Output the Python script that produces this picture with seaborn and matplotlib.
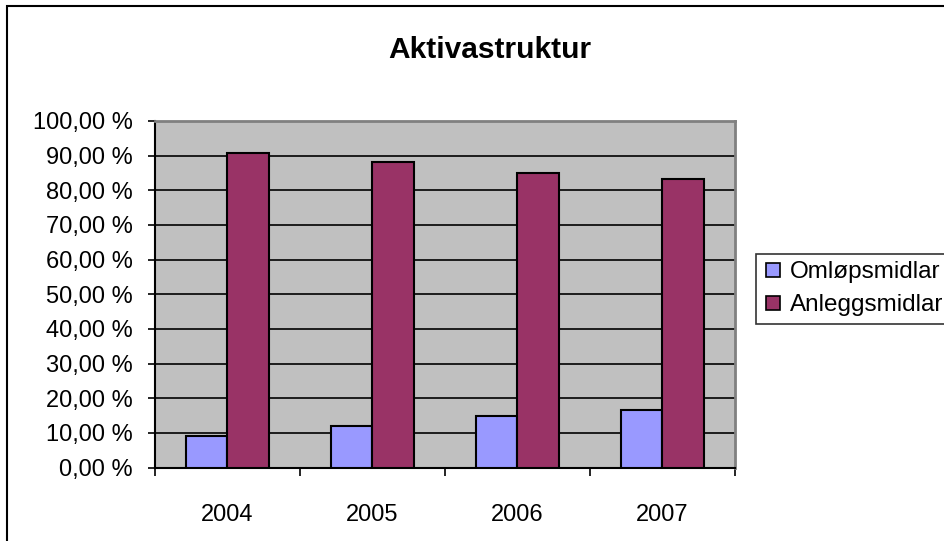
import matplotlib
matplotlib.use("Agg")
import matplotlib.pyplot as plt
import seaborn as sns
import pandas as pd
from matplotlib.patches import Rectangle
from matplotlib.lines import Line2D
from matplotlib.ticker import FixedLocator, FuncFormatter

years = ["2004", "2005", "2006", "2007"]
omlop = [9.1, 11.9, 15.0, 16.7]
anlegg = [90.9, 88.1, 85.0, 83.3]
series = ["Omløpsmidlar", "Anleggsmidlar"]
colors = ["#9999FF", "#993366"]
yticks = list(range(0, 101, 10))
title = "Aktivastruktur"

df = pd.DataFrame({
    "year": years * 2,
    "value": omlop + anlegg,
    "series": [series[0]] * len(years) + [series[1]] * len(years),
})

sns.set_theme(style="white")
plt.rcParams["font.family"] = ["Liberation Sans", "DejaVu Sans"]
plt.rcParams["text.color"] = "black"
plt.rcParams["xtick.color"] = "black"
plt.rcParams["ytick.color"] = "black"
plt.rcParams["xtick.labelcolor"] = "black"
plt.rcParams["ytick.labelcolor"] = "black"

W, H = 945, 541
fig = plt.figure(figsize=(W / 100, H / 100), dpi=100)
ax = fig.add_axes([155 / W, 1 - 467.5 / H, (735 - 155) / W, (467.5 - 121) / H])
ax.set_facecolor("#C0C0C0")

sns.barplot(data=df, x="year", y="value", hue="series", order=years,
            hue_order=series, palette=colors, width=0.566, gap=0,
            edgecolor="black", linewidth=1.5, ax=ax, legend=False,
            saturation=1, zorder=3)

ax.set_ylim(0, 100)
ax.set_xlim(-0.5, 3.5)
ax.set_yticks(yticks)
ax.yaxis.set_major_formatter(FuncFormatter(lambda v, p: f"{v:.2f} %".replace(".", ",")))
ax.grid(axis="y", color="black", linewidth=1.2, zorder=0)
ax.set_axisbelow(True)
ax.set_xlabel("")
ax.set_ylabel("")

ax.tick_params(axis="y", which="major", direction="out", length=5, width=1.2,
               color="black", labelcolor="black", left=True, labelsize=17, pad=11)
ax.tick_params(axis="x", which="major", length=0, labelsize=17, labelcolor="black", pad=26)
ax.xaxis.set_minor_locator(FixedLocator([-0.5, 0.5, 1.5, 2.5, 3.5]))
ax.tick_params(axis="x", which="minor", direction="out", length=6, width=1.2,
               color="black", bottom=True)

for s in ["left", "bottom"]:
    ax.spines[s].set_color("black")
    ax.spines[s].set_linewidth(1.5)
    ax.spines[s].set_visible(True)
for s in ["top", "right"]:
    ax.spines[s].set_color("#808080")
    ax.spines[s].set_linewidth(2)
    ax.spines[s].set_visible(True)

fig.text(490 / W, 1 - 50 / H, title, ha="center", va="center",
         fontsize=21.5, fontweight="bold", color="black")

handles = [Line2D([0], [0], marker="s", linestyle="", markersize=10,
                  markerfacecolor=c, markeredgecolor="black", markeredgewidth=1.2)
           for c in colors]
leg = fig.legend(handles, series, loc="upper left",
                 bbox_to_anchor=(756 / W, 1 - 254 / H), bbox_transform=fig.transFigure,
                 fontsize=17.5, frameon=True, fancybox=False, edgecolor="black",
                 handlelength=0.8, handletextpad=0.3, borderpad=0.3,
                 labelspacing=0.45, borderaxespad=0, labelcolor="black")
leg.get_frame().set_linewidth(1.2)

fig.patches.append(Rectangle((7 / W, -0.5), 2, 1.5 - 6 / H, transform=fig.transFigure,
                             fill=False, edgecolor="black", linewidth=1.5))

fig.savefig("out.png", dpi=100)
